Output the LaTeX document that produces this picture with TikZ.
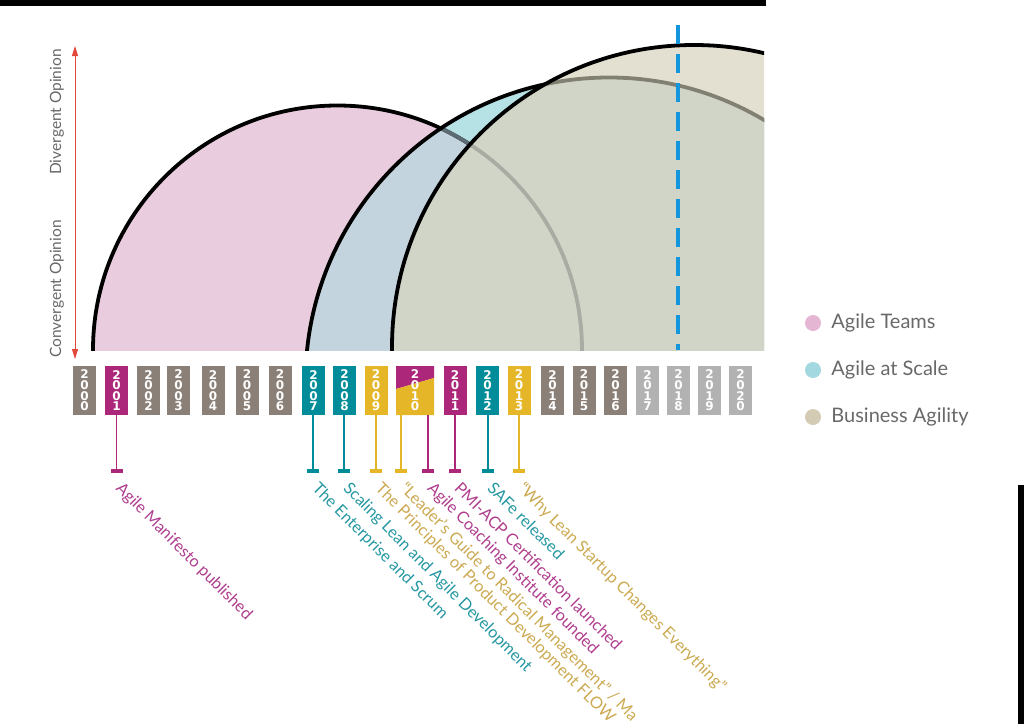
\documentclass[tikz,border=0pt]{standalone}
\usepackage{fontspec}
\setmainfont{Lato}
\newfontfamily\yearfont{DejaVu Sans}
\usetikzlibrary{positioning,arrows.meta,calc}

\definecolor{tgrey}{RGB}{139,128,120}
\definecolor{lgrey}{RGB}{178,178,178}
\definecolor{mag}{RGB}{172,38,122}
\definecolor{teal}{RGB}{0,140,152}
\definecolor{gold}{RGB}{228,182,40}
\definecolor{magtxt}{RGB}{176,62,142}
\definecolor{tealtxt}{RGB}{38,152,162}
\definecolor{goldtxt}{RGB}{204,170,82}
\definecolor{pinkfill}{RGB}{233,205,223}
\definecolor{bluefill}{RGB}{182,225,229}
\definecolor{pinkblue}{RGB}{196,212,222}
\definecolor{beigefill}{RGB}{228,224,209}
\definecolor{beigeblue}{RGB}{209,213,199}
\definecolor{pinkrimA}{RGB}{92,108,114}
\definecolor{pinkrimB}{RGB}{168,172,162}
\definecolor{bluerim}{RGB}{130,128,114}
\definecolor{nowblue}{RGB}{20,150,220}
\definecolor{axisred}{RGB}{226,72,60}
\definecolor{labgrey}{RGB}{105,105,105}
\definecolor{pinkkey}{RGB}{228,182,212}
\definecolor{bluekey}{RGB}{164,216,224}
\definecolor{beigekey}{RGB}{212,203,180}

\newcommand{\vyear}[4]{#1\\#2\\#3\\#4}
\def\teamsc{(337.5,350) circle[radius=244.5]}
\def\scalec{(609,381) circle[radius=303.5]}
\def\bizc{(694,347) circle[radius=302]}

\begin{document}
\begin{tikzpicture}[
  x=1pt,y=-1pt,
  yearbox/.style={text=white,minimum width=23pt,minimum height=49pt,inner sep=0pt,
    font=\yearfont\fontsize{12}{10.6}\selectfont\bfseries,align=center},
  tick/.style={fill=#1,minimum width=12pt,minimum height=4pt,inner sep=0pt},
  stem/.style={draw=#1,line width=1.3pt},
  event/.style={text=#1,font=\fontsize{16.3}{16.3}\selectfont,anchor=north west,rotate=-45,inner sep=1pt},
  rim/.style={line width=3.8pt},
  nowline/.style={draw=nowblue,line width=3.5pt,dash pattern=on 19pt off 10pt},
  axis/.style={draw=axisred,line width=1pt,{Triangle[width=6pt,length=10pt]}-{Triangle[width=6pt,length=10pt]}},
  axlabel/.style={rotate=90,text=labgrey,font=\fontsize{15.5}{15.5}\selectfont},
  dot/.style={circle,fill=#1,minimum size=16pt,inner sep=0pt},
  key/.style={font=\fontsize{20}{20}\selectfont,text=labgrey,inner sep=2pt},
  >=Stealth
  ]

  \useasboundingbox (0,0) rectangle (1024,724);
  \fill[white] (0,0) rectangle (1024,724);

  % the three waves
  \begin{scope}
    \clip (0,0) rectangle (764,350);
    \fill[pinkfill] \teamsc;
    \fill[bluefill] \scalec;
    \begin{scope}
      \clip \teamsc;
      \fill[pinkblue] \scalec;
    \end{scope}
    \draw[rim] \teamsc;
    \begin{scope}
      \clip \scalec;
      \draw[rim,pinkrimA] \teamsc;
    \end{scope}
    \draw[rim] \scalec;
    \fill[beigefill] \bizc;
    \begin{scope}
      \clip \scalec;
      \fill[beigeblue] \bizc;
    \end{scope}
    \begin{scope}
      \clip \bizc;
      \draw[rim,pinkrimB] \teamsc;
      \draw[rim,bluerim] \scalec;
    \end{scope}
    \draw[rim] \bizc;
  \end{scope}

  % today
  \coordinate (nowtop) at (678,25);
  \coordinate (nowbot) at (678,350);
  \draw[nowline] (nowtop) -- (nowbot);

  % opinion axis
  \coordinate (axtop) at (75,46);
  \coordinate (axbot) at (75,359);
  \draw[axis] (axtop) -- (axbot);
  \node[axlabel] (diverg) at (57,112) {Divergent Opinion};
  \node[axlabel] (converg) at (57,289) {Convergent Opinion};

  % years
  \foreach \yr/\xc/\clr in {2000/84.5/tgrey,2001/116.5/mag,2002/148.5/tgrey,2003/178.5/tgrey,
      2004/213/tgrey,2005/247/tgrey,2006/280/tgrey,2007/313.5/teal,2008/344.5/teal,2009/376/gold,
      2011/455/mag,2012/487.5/teal,2013/519/gold,2014/552.5/tgrey,2015/584/tgrey,2016/615.5/tgrey,
      2017/647.5/lgrey,2018/678.5/lgrey,2019/709.5/lgrey,2020/740.5/lgrey}
    \node[yearbox,fill=\clr] (y\yr) at (\xc,390.5) {\expandafter\vyear\yr};

  \fill[mag] (396,366) -- (434,366) -- (434,378) -- (396,389) -- cycle;
  \fill[gold] (396,389) -- (434,378) -- (434,415) -- (396,415) -- cycle;
  \node[yearbox,minimum width=38pt] (y2010) at (415,390.5) {\vyear 2010};

  % events
  \foreach \n/\xc/\clr/\txt/\src/\lbl in {
      2001/116.5/mag/magtxt/y2001/{Agile Manifesto published},
      2007/313/teal/tealtxt/y2007/{The Enterprise and Scrum},
      2008/344/teal/tealtxt/y2008/{Scaling Lean and Agile Development},
      2009/376/gold/goldtxt/y2009/{The Principles of Product Development FLOW},
      2010a/401/gold/goldtxt/y2010/{“Leader’s Guide to Radical Management” / Ma},
      2010b/428/mag/magtxt/y2010/{Agile Coaching Institute founded},
      2011/455/mag/magtxt/y2011/{PMI-ACP Certification launched},
      2012/488/teal/tealtxt/y2012/{SAFe released},
      2013/519/gold/goldtxt/y2013/{“Why Lean Startup Changes Everything”}}
  {
    \node[tick=\clr] (k\n) at (\xc,471) {};
    \draw[stem=\clr] (\src.south -| k\n) -- (k\n.north);
    \node[event=\txt] (e\n) at ([xshift=7pt,yshift=-6pt]k\n.south) {\lbl};
  }

  % legend
  \node[dot=pinkkey] (dteams) at (813,323) {};
  \node[key,right=8pt of dteams] (lteams) {Agile Teams};
  \node[dot=bluekey] (dscale) at (813,370) {};
  \node[key,right=8pt of dscale] (lscale) {Agile at Scale};
  \node[dot=beigekey] (dbiz) at (813,417) {};
  \node[key,right=8pt of dbiz] (lbiz) {Business Agility};

  % frame edges
  \fill[black] (0,0) rectangle (766,6);
  \fill[black] (1018,485) rectangle (1024,724);
\end{tikzpicture}
\end{document}
